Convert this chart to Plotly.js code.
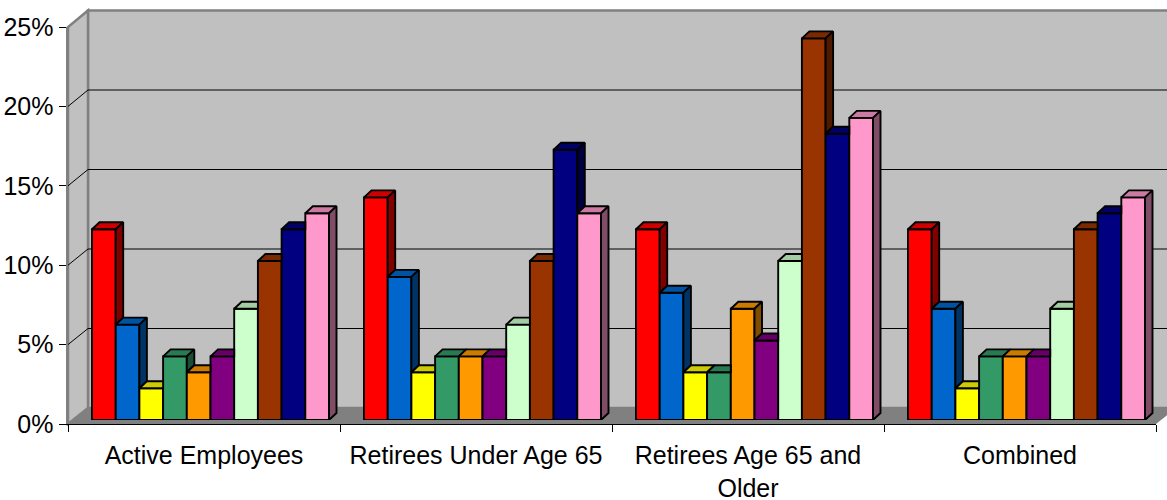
<!DOCTYPE html>
<html><head><meta charset="utf-8">
<script src="https://cdn.plot.ly/plotly-3.0.1.min.js"></script>
<style>html,body{margin:0;padding:0;background:#fff}#chart{width:1167px;height:500px}</style>
</head><body><div id="chart"></div>
<script>
// ---- data ----
const categories = ['Active Employees', 'Retirees Under Age 65', 'Retirees Age 65 and Older', 'Combined'];
const tickLabels = ['Active Employees', 'Retirees Under Age 65', 'Retirees Age 65 and<br>Older', 'Combined'];
const series1 = [12, 14, 12, 12];   // red
const series2 = [6, 9, 8, 7];       // blue
const series3 = [2, 3, 3, 2];       // yellow
const series4 = [4, 4, 3, 4];       // green
const series5 = [3, 4, 7, 4];       // orange
const series6 = [4, 4, 5, 4];       // purple
const series7 = [7, 6, 10, 7];      // light green
const series8 = [10, 10, 24, 12];   // brown
const series9 = [12, 17, 18, 13];   // navy
const series10 = [13, 13, 19, 14];  // pink
const seriesNames = ['Series 1','Series 2','Series 3','Series 4','Series 5','Series 6','Series 7','Series 8','Series 9','Series 10'];
const seriesColors = ['#FF0000','#0066CC','#FFFF00','#339966','#FF9900','#800080','#CCFFCC','#993300','#000080','#FF99CC'];
const yTicks = [0, 5, 10, 15, 20, 25];

const seriesValues = [series1, series2, series3, series4, series5, series6, series7, series8, series9, series10];

// ---- geometry (pixels) ----
const W = 1167, H = 500;
const px = x => x / W, py = y => 1 - y / H;
const FRONT = {x: 68, xEnd: 1156, y0: 424, yTop: 27};
const BACK = {x: 88, y0: 408, yTop: 10.5};
const BAR = {x0: 74.5, x1: 1162.5, y0: 420, yTop: 22.5};
const yMax = 25;
const sFront = (FRONT.y0 - FRONT.yTop) / yMax;
const sBack = (BACK.y0 - BACK.yTop) / yMax;
const sBar = (BAR.y0 - BAR.yTop) / yMax;
const catPx = (BAR.x1 - BAR.x0) / categories.length;
const bargap = 35 / catPx;
const nS = seriesValues.length;
const barW = (1 - bargap) / nS;
const dxU = 7.5 / catPx;
const dyU = 7 / sBar;
const OUTLINE = 1.9;

function shade(hex, f) {
  const n = parseInt(hex.slice(1), 16);
  const r = Math.round(((n >> 16) & 255) * f), g = Math.round(((n >> 8) & 255) * f), b = Math.round((n & 255) * f);
  return 'rgb(' + r + ',' + g + ',' + b + ')';
}

const traces = [];
const xIdx = categories.map((c, i) => i);
seriesValues.forEach((vals, j) => {
  traces.push({
    type: 'bar', name: seriesNames[j], x: xIdx, y: vals,
    marker: {color: seriesColors[j], line: {color: '#000', width: OUTLINE}},
    xaxis: 'x', yaxis: 'y', hoverinfo: 'skip'
  });
});
seriesValues.forEach((vals, j) => {
  const tx = [], ty = [], sx = [], sy = [];
  const poly = (ax, ay, pts) => { pts.forEach(p => { ax.push(p[0]); ay.push(p[1]); }); ax.push(pts[0][0]); ay.push(pts[0][1]); ax.push(null); ay.push(null); };
  vals.forEach((v, i) => {
    const vn = j < nS - 1 ? seriesValues[j + 1][i] : null;
    const x0 = i - 0.5 + bargap / 2 + j * barW, x1 = x0 + barW;
    if (vn !== null && vn > v) poly(tx, ty, [[x0, v], [x1, v], [x1, v + dyU], [x0 + dxU, v + dyU]]);
    else poly(tx, ty, [[x0, v], [x1, v], [x1 + dxU, v + dyU], [x0 + dxU, v + dyU]]);
    if (vn === null) poly(sx, sy, [[x1, 0], [x1 + dxU, dyU], [x1 + dxU, v + dyU], [x1, v]]);
    else if (vn < v) poly(sx, sy, [[x1, vn], [x1 + dxU, vn + dyU], [x1 + dxU, v + dyU], [x1, v]]);
  });
  traces.push({type: 'scatter', mode: 'lines', x: tx, y: ty, fill: 'toself', fillcolor: shade(seriesColors[j], 0.8),
    line: {color: '#000', width: OUTLINE}, xaxis: 'x', yaxis: 'y', hoverinfo: 'skip', showlegend: false});
  if (sx.length) traces.push({type: 'scatter', mode: 'lines', x: sx, y: sy, fill: 'toself', fillcolor: shade(seriesColors[j], 0.5),
    line: {color: '#000', width: OUTLINE}, xaxis: 'x', yaxis: 'y', hoverinfo: 'skip', showlegend: false});
});
traces.push({type: 'scatter', mode: 'markers', x: tickLabels, y: tickLabels.map(() => 0), marker: {opacity: 0, size: 1},
  xaxis: 'x2', yaxis: 'y2', hoverinfo: 'skip', showlegend: false});

// ---- walls, floor, gridlines ----
const shapes = [];
shapes.push({type: 'rect', xref: 'paper', yref: 'paper', layer: 'below', x0: px(BACK.x), x1: px(W + 10), y0: py(BACK.y0), y1: py(BACK.yTop),
  fillcolor: '#C0C0C0', line: {color: '#808080', width: 2.5}});
shapes.push({type: 'path', xref: 'paper', yref: 'paper', layer: 'below',
  path: `M${px(FRONT.x)},${py(FRONT.y0)} L${px(FRONT.x)},${py(FRONT.yTop)} L${px(BACK.x)},${py(BACK.yTop)} L${px(BACK.x)},${py(BACK.y0)} Z`,
  fillcolor: '#C0C0C0', line: {color: '#808080', width: 2.5}});
const dxb = BACK.x - FRONT.x;
shapes.push({type: 'path', xref: 'paper', yref: 'paper', layer: 'below',
  path: `M${px(FRONT.x)},${py(FRONT.y0)} L${px(FRONT.xEnd)},${py(FRONT.y0)} L${px(FRONT.xEnd + dxb)},${py(BACK.y0)} L${px(BACK.x)},${py(BACK.y0)} Z`,
  fillcolor: '#808080', line: {width: 0}});
yTicks.filter(v => v > 0 && v < yMax).forEach(v => {
  shapes.push({type: 'line', xref: 'paper', yref: 'paper', layer: 'below', x0: px(BACK.x), x1: px(W), y0: py(BACK.y0 - v * sBack), y1: py(BACK.y0 - v * sBack),
    line: {color: '#000', width: 1}});
  shapes.push({type: 'line', xref: 'paper', yref: 'paper', layer: 'below', x0: px(FRONT.x), x1: px(BACK.x), y0: py(FRONT.y0 - v * sFront), y1: py(BACK.y0 - v * sBack),
    line: {color: '#000', width: 1}});
});

const layout = {
  width: W, height: H, margin: {l: 0, r: 0, t: 0, b: 0},
  paper_bgcolor: '#FFFFFF', plot_bgcolor: 'rgba(0,0,0,0)', showlegend: false,
  barmode: 'group', bargap: bargap, bargroupgap: 0,
  font: {family: '"Liberation Sans", Arial, sans-serif', size: 25, color: '#000'},
  xaxis: {domain: [px(BAR.x0), px(BAR.x1)], range: [-0.5, 3.5], visible: false, fixedrange: true},
  yaxis: {domain: [py(BAR.y0), py(BAR.yTop)], range: [0, yMax], visible: false, fixedrange: true},
  xaxis2: {domain: [px(FRONT.x), px(FRONT.xEnd)], anchor: 'y2', type: 'category', categoryorder: 'array', categoryarray: tickLabels,
    range: [-0.5, 3.5], tickson: 'boundaries', ticks: 'outside', ticklen: 7, tickcolor: '#000', tickwidth: 1,
    ticklabelstandoff: 9,
    showline: true, linecolor: '#000', linewidth: 1, showgrid: false, zeroline: false, fixedrange: true,
    tickfont: {size: 25, color: '#000'}},
  yaxis2: {domain: [py(FRONT.y0), py(FRONT.yTop)], anchor: 'x2', range: [0, yMax], tickvals: yTicks, ticktext: yTicks.map(v => v + '%'),
    ticks: 'outside', ticklen: 7, tickcolor: '#000', tickwidth: 1, showline: true, linecolor: '#808080', linewidth: 2.5,
    showgrid: false, zeroline: false, fixedrange: true, tickfont: {size: 25, color: '#000'}},
  shapes: shapes
};
Plotly.newPlot('chart', traces, layout, {staticPlot: true, displayModeBar: false});
</script>
</body></html>
